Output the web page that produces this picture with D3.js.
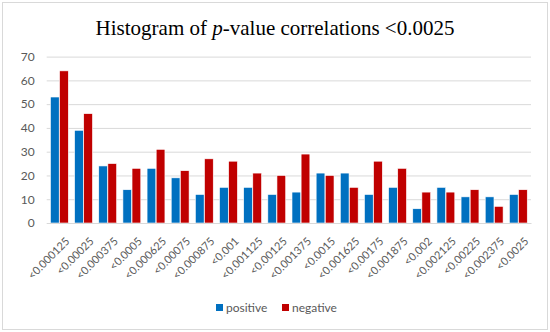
<!DOCTYPE html>
<html>
<head>
<meta charset="utf-8">
<script src="https://cdn.jsdelivr.net/npm/d3@7"></script>
<style>
  body { margin: 0; background: #fff; }
  .tick text { fill: #595959; }
</style>
</head>
<body>
<div class="hist"></div>
<script>
  // bins and counts
  const bins = ["<0.000125", "<0.00025", "<0.000375", "<0.0005", "<0.000625", "<0.00075",
    "<0.000875", "<0.001", "<0.001125", "<0.00125", "<0.001375", "<0.0015", "<0.001625",
    "<0.00175", "<0.001875", "<0.002", "<0.002125", "<0.00225", "<0.002375", "<0.0025"];
  const positive = [53, 39, 24, 14, 23, 19, 12, 15, 15, 12, 13, 21, 21, 12, 15, 6, 15, 11, 11, 12];
  const negative = [64, 46, 25, 23, 31, 22, 27, 26, 21, 20, 29, 20, 15, 26, 23, 13, 13, 14, 7, 14];
  const series = ["positive", "negative"];
  const yTicks = [0, 10, 20, 30, 40, 50, 60, 70];

  const colors = {positive: "#0070C0", negative: "#C00000"};
  const W = 550, H = 332;
  const font = "Lato, 'Open Sans', sans-serif";

  const svg = d3.select(".hist").append("svg")
    .attr("width", W)
    .attr("height", H);

  // outer frame
  svg.append("rect")
    .attr("x", 2.5).attr("y", 2.5)
    .attr("width", W - 5).attr("height", H - 5)
    .attr("fill", "#fff")
    .attr("stroke", "#d9d9d9");

  const x = d3.scaleBand()
    .domain(bins)
    .range([46.7, 531])
    .paddingInner(0.23)
    .paddingOuter(0.14);

  const x1 = d3.scaleBand()
    .domain(series)
    .range([0, x.bandwidth()])
    .padding(0.04);

  const y = d3.scaleLinear()
    .domain([0, 70])
    .range([223, 56.6]);

  // gridlines + y labels
  const yAxis = d3.axisLeft(y)
    .tickValues(yTicks)
    .tickSize(-(531 - 46.7))
    .tickPadding(12);

  svg.append("g")
    .attr("transform", "translate(46.7,0)")
    .call(yAxis)
    .call(g => g.select(".domain").remove())
    .call(g => g.selectAll(".tick line").attr("stroke", "#d9d9d9"))
    .call(g => g.selectAll(".tick text")
      .style("font-family", font).style("font-size", "12px"));

  // bars
  const data = bins.map((b, i) => ({bin: b, positive: positive[i], negative: negative[i]}));

  const groups = svg.append("g")
    .selectAll("g")
    .data(data)
    .join("g")
      .attr("transform", d => "translate(" + x(d.bin) + ",0)");

  groups.selectAll("rect")
    .data(d => series.map(k => ({key: k, value: d[k]})))
    .join("rect")
      .attr("x", d => x1(d.key))
      .attr("y", d => y(d.value))
      .attr("width", x1.bandwidth())
      .attr("height", d => y(0) - y(d.value))
      .attr("fill", d => colors[d.key])
      .attr("stroke", "#fff")
      .attr("stroke-width", 0.6);

  // x axis
  const xAxis = d3.axisBottom(x).tickSize(0).tickPadding(6);
  svg.append("g")
    .attr("transform", "translate(0,223)")
    .call(xAxis)
    .call(g => g.select(".domain").attr("stroke", "#d9d9d9"))
    .call(g => g.selectAll(".tick text")
      .style("font-family", font).style("font-size", "11px")
      .attr("text-anchor", "end")
      .attr("dy", "0.35em")
      .attr("transform", "translate(4,12) rotate(-45)"));

  // title
  const title = svg.append("text")
    .attr("x", 275).attr("y", 35)
    .attr("text-anchor", "middle")
    .style("font-family", "'Liberation Serif', 'Times New Roman', serif")
    .style("font-size", "21px")
    .attr("fill", "#000");
  title.append("tspan").text("Histogram of ");
  title.append("tspan").style("font-style", "italic").text("p");
  title.append("tspan").text("-value correlations <0.0025");

  // legend
  const legend = svg.append("g")
    .selectAll("g")
    .data(series)
    .join("g")
      .attr("transform", (d, i) => "translate(" + (216 + i * 66) + ",304)");

  legend.append("rect")
    .attr("width", 7).attr("height", 7)
    .attr("fill", d => colors[d]);

  legend.append("text")
    .attr("x", 10).attr("y", 7.5)
    .style("font-family", font).style("font-size", "12px")
    .attr("fill", "#595959")
    .text(d => d);
</script>
</body>
</html>
